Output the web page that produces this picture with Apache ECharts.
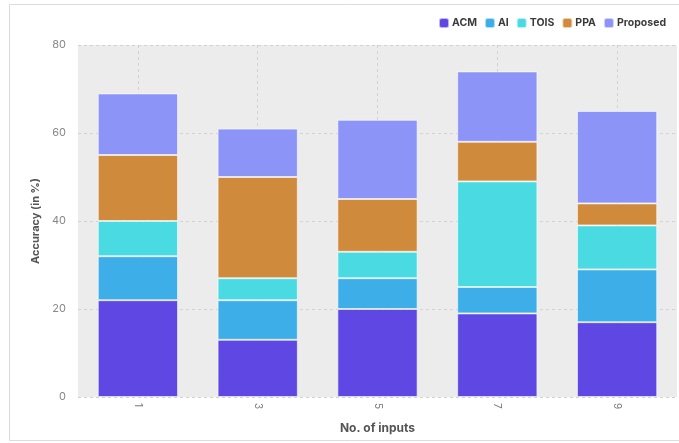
<!DOCTYPE html>
<html>
<head>
<meta charset="utf-8">
<script src="https://cdn.jsdelivr.net/npm/echarts@6/dist/echarts.min.js"></script>
<style>
  html, body { margin: 0; padding: 0; background: #ffffff; }
  #chart { width: 679px; height: 443px; }
</style>
</head>
<body>
<div id="chart"></div>
<script>
// Number of inputs on the x axis
const categories = ['1', '3', '5', '7', '9'];

// Accuracy contribution of each method (stacked, in %)
const acm      = [22, 13, 20, 19, 17];
const ai       = [10,  9,  7,  6, 12];
const tois     = [ 8,  5,  6, 24, 10];
const ppa      = [15, 23, 12,  9,  5];
const proposed = [14, 11, 18, 16, 21];

const yTicks = [0, 20, 40, 60, 80];

const seriesDefs = [
  { name: 'ACM',      data: acm,      color: '#5e47e2' },
  { name: 'AI',       data: ai,       color: '#3daee8' },
  { name: 'TOIS',     data: tois,     color: '#4adbe2' },
  { name: 'PPA',      data: ppa,      color: '#cf8a3c' },
  { name: 'Proposed', data: proposed, color: '#8c94f8' }
];

const chart = echarts.init(document.getElementById('chart'), null, { renderer: 'canvas' });

const fontFamily = 'Inter, "Open Sans", sans-serif';
const gridLine = { type: [3, 3], color: '#d2d2d2', width: 1 };

chart.setOption({
  animation: false,
  backgroundColor: '#ffffff',
  textStyle: { fontFamily: fontFamily },
  graphic: [{
    type: 'rect',
    shape: { x: 9.5, y: 4.5, width: 690, height: 436 },
    style: { fill: 'none', stroke: '#dcdcdc', lineWidth: 1 },
    silent: true,
    z: -1
  }],
  legend: {
    right: 8,
    top: 12,
    itemWidth: 10,
    itemHeight: 10,
    itemGap: 7,
    icon: 'roundRect',
    textStyle: { fontSize: 10.5, fontWeight: 'bold', color: '#3a3a3a', padding: [0, 0, 0, -2] },
    data: seriesDefs.map(s => s.name)
  },
  grid: {
    left: 78,
    right: 2,
    top: 45,
    bottom: 46,
    show: true,
    backgroundColor: '#ececec',
    borderWidth: 0
  },
  xAxis: {
    type: 'category',
    data: categories,
    name: 'No. of inputs',
    nameLocation: 'middle',
    nameGap: 25,
    nameTextStyle: { fontSize: 12, fontWeight: 'bold', color: '#555' },
    axisLine: { show: false },
    axisTick: { show: false, alignWithLabel: true },
    axisLabel: { rotate: -90, fontSize: 10, color: '#777', margin: 6 },
    // vertical guides run through the middle of each category
    splitLine: { show: true, alignWithLabel: true, lineStyle: gridLine }
  },
  yAxis: {
    type: 'value',
    min: yTicks[0],
    max: yTicks[yTicks.length - 1],
    interval: 20,
    name: 'Accuracy (in %)',
    nameLocation: 'middle',
    nameGap: 36,
    nameTextStyle: { fontSize: 11, fontWeight: 'bold', color: '#555' },
    axisLine: { show: false },
    axisTick: { show: false },
    axisLabel: { fontSize: 11, color: '#888', margin: 12 },
    splitLine: { show: true, lineStyle: gridLine }
  },
  series: seriesDefs.map(s => ({
    name: s.name,
    type: 'bar',
    stack: 'total',
    data: s.data,
    barWidth: '67%',
    itemStyle: { color: s.color, borderColor: 'rgba(255,255,255,0.6)', borderWidth: 1 }
  }))
});
</script>
</body>
</html>
